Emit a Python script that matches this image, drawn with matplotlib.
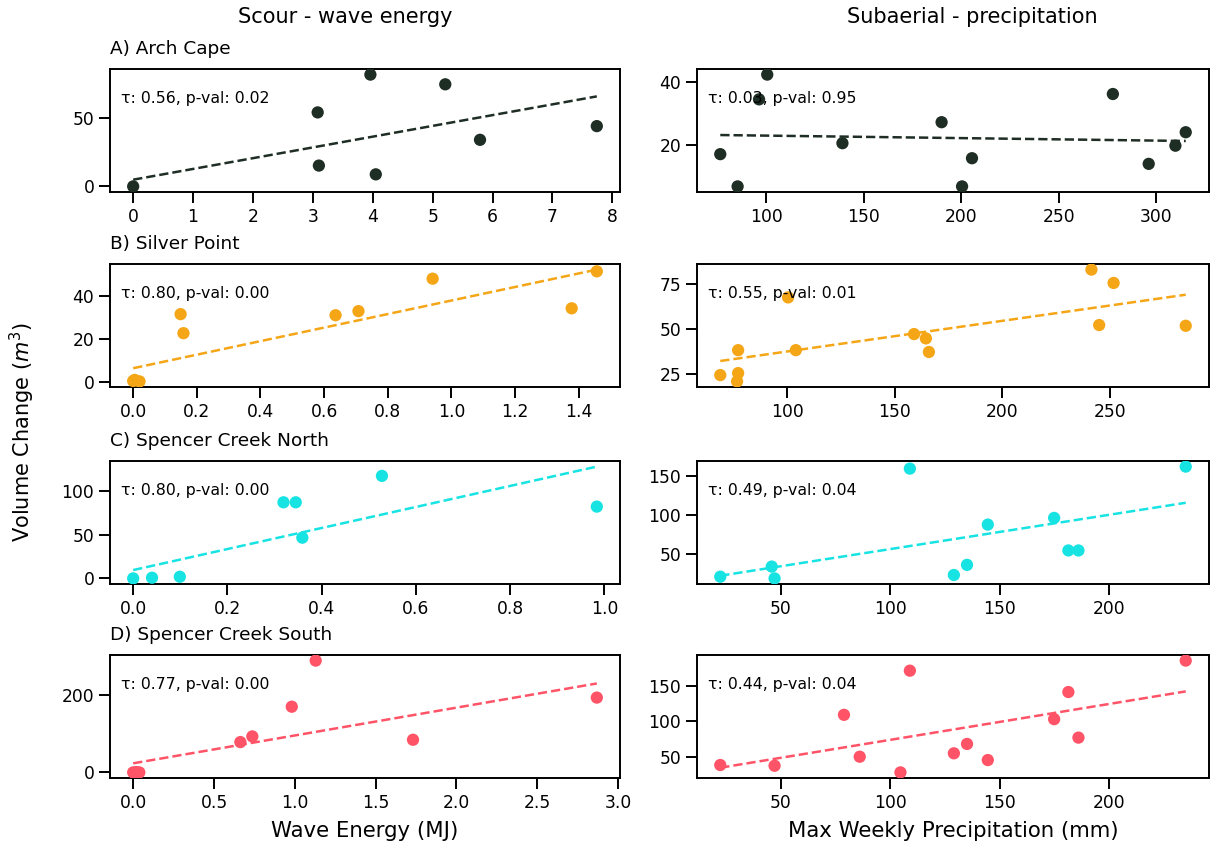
import numpy as np
import matplotlib.pyplot as plt

sites = ["A) Arch Cape", "B) Silver Point", "C) Spencer Creek North", "D) Spencer Creek South"]
colors = ["#1f2e25", "#f5a617", "#18e3e3", "#ff5467"]

# scour: wave energy (MJ) vs volume change (m3)
wave_arch_x = [0.0, 3.08, 3.10, 3.96, 4.05, 5.21, 5.79, 7.74]
wave_arch_y = [0.0, 54.0, 15.2, 81.6, 8.8, 74.5, 34.0, 44.0]
wave_silver_x = [0.0, 0.005, 0.02, 0.149, 0.158, 0.636, 0.708, 0.941, 1.378, 1.457]
wave_silver_y = [0.5, 1.0, 0.3, 31.4, 22.6, 30.9, 32.8, 47.8, 34.1, 51.2]
wave_north_x = [0.0, 0.04, 0.099, 0.319, 0.345, 0.359, 0.528, 0.984]
wave_north_y = [0.0, 0.8, 1.9, 86.7, 86.7, 46.4, 116.8, 81.8]
wave_south_x = [0.0, 0.02, 0.038, 0.663, 0.737, 0.981, 1.129, 1.731, 2.868]
wave_south_y = [0.0, 1.0, 0.0, 78.6, 93.3, 170.3, 289.8, 84.6, 193.9]

# subaerial: max weekly precipitation (mm) vs volume change (m3)
precip_arch_x = [76.3, 85.2, 96.2, 100.4, 139.0, 189.9, 200.4, 205.5, 277.8, 296.2, 309.9, 315.2]
precip_arch_y = [17.1, 6.8, 34.6, 42.5, 20.6, 27.3, 6.8, 15.8, 36.3, 14.0, 19.8, 24.1]
precip_silver_x = [69.0, 77.3, 77.3, 76.8, 100.5, 104.1, 159.0, 164.5, 165.9, 241.4, 245.0, 251.7, 285.2]
precip_silver_y = [24.6, 38.4, 25.7, 21.1, 67.6, 38.4, 47.3, 44.9, 37.4, 83.0, 52.3, 75.6, 51.9]
precip_north_x = [22.3, 45.8, 47.1, 108.9, 129.0, 135.0, 144.5, 174.8, 181.3, 185.9, 234.9]
precip_north_y = [20.6, 33.6, 18.4, 159.4, 22.8, 35.8, 87.5, 96.1, 54.3, 54.3, 162.0]
precip_south_x = [22.3, 47.1, 78.8, 86.0, 104.6, 108.9, 129.0, 135.0, 144.5, 174.8, 181.3, 185.9, 234.9]
precip_south_y = [38.3, 37.3, 109.0, 50.0, 27.9, 171.2, 54.8, 68.0, 45.3, 102.9, 141.1, 76.9, 185.4]

# trend lines (intercept, slope) and Kendall stats as shown
wave_fits = [(4.9, 7.855), (6.4, 31.3), (9.5, 119.8), (23.6, 72.14)]
precip_fits = [(23.81, -0.00795), (20.69, 0.1697), (12.03, 0.4405), (23.23, 0.5056)]
wave_stats = ["τ: 0.56, p-val: 0.02", "τ: 0.80, p-val: 0.00", "τ: 0.80, p-val: 0.00", "τ: 0.77, p-val: 0.00"]
precip_stats = ["τ: 0.03, p-val: 0.95", "τ: 0.55, p-val: 0.01", "τ: 0.49, p-val: 0.04", "τ: 0.44, p-val: 0.04"]

wave_yticks = [[0, 50], [0, 20, 40], [0, 50, 100], [0, 200]]
precip_yticks = [[20, 40], [25, 50, 75], [50, 100, 150], [50, 100, 150]]

wave_data = [(wave_arch_x, wave_arch_y), (wave_silver_x, wave_silver_y),
             (wave_north_x, wave_north_y), (wave_south_x, wave_south_y)]
precip_data = [(precip_arch_x, precip_arch_y), (precip_silver_x, precip_silver_y),
               (precip_north_x, precip_north_y), (precip_south_x, precip_south_y)]

W, H = 1211, 851
fig = plt.figure(figsize=(W / 100, H / 100), dpi=100)

row_tops = [69, 264, 461, 655]
row_h = 123
left_col = (110, 510)
right_col = (697, 512)


def draw_panel(ax, x, y, fit, stat, yticks, color, stat_x):
    x = np.asarray(x)
    ax.scatter(x, y, s=78, color=color, edgecolors="none", zorder=3)
    xs = np.array([x.min(), x.max()])
    ax.plot(xs, fit[0] + fit[1] * xs, "--", color=color, lw=1.8, zorder=2)
    ax.text(stat_x, 0.724, stat, transform=ax.transAxes, fontsize=11.3, va="baseline")
    ax.set_yticks(yticks)
    ax.tick_params(labelsize=12.3, length=7.8, width=1.4)
    for s in ax.spines.values():
        s.set_linewidth(1.4)


for i in range(4):
    top = row_tops[i]
    rect_l = [left_col[0] / W, 1 - (top + row_h) / H, left_col[1] / W, row_h / H]
    rect_r = [right_col[0] / W, 1 - (top + row_h) / H, right_col[1] / W, row_h / H]
    ax_l = fig.add_axes(rect_l)
    ax_r = fig.add_axes(rect_r)

    draw_panel(ax_l, *wave_data[i], wave_fits[i], wave_stats[i], wave_yticks[i], colors[i], 0.021)
    draw_panel(ax_r, *precip_data[i], precip_fits[i], precip_stats[i], precip_yticks[i], colors[i], 0.021)
    ax_l.set_title(sites[i], loc="left", fontsize=13.3, pad=11)

    if i == 3:
        ax_l.set_xlabel("Wave Energy (MJ)", fontsize=15.3, labelpad=7)
        ax_r.set_xlabel("Max Weekly Precipitation (mm)", fontsize=15.3, labelpad=7)

fig.text(345 / W, 1 - 23 / H, "Scour - wave energy", ha="center", va="baseline", fontsize=15)
fig.text(972 / W, 1 - 23 / H, "Subaerial - precipitation", ha="center", va="baseline", fontsize=15)
fig.text(22 / W, 1 - 432 / H, "Volume Change ($m^3$)", rotation=90, ha="center", va="center", fontsize=15)

plt.savefig("out.png", dpi=100)
plt.close()
